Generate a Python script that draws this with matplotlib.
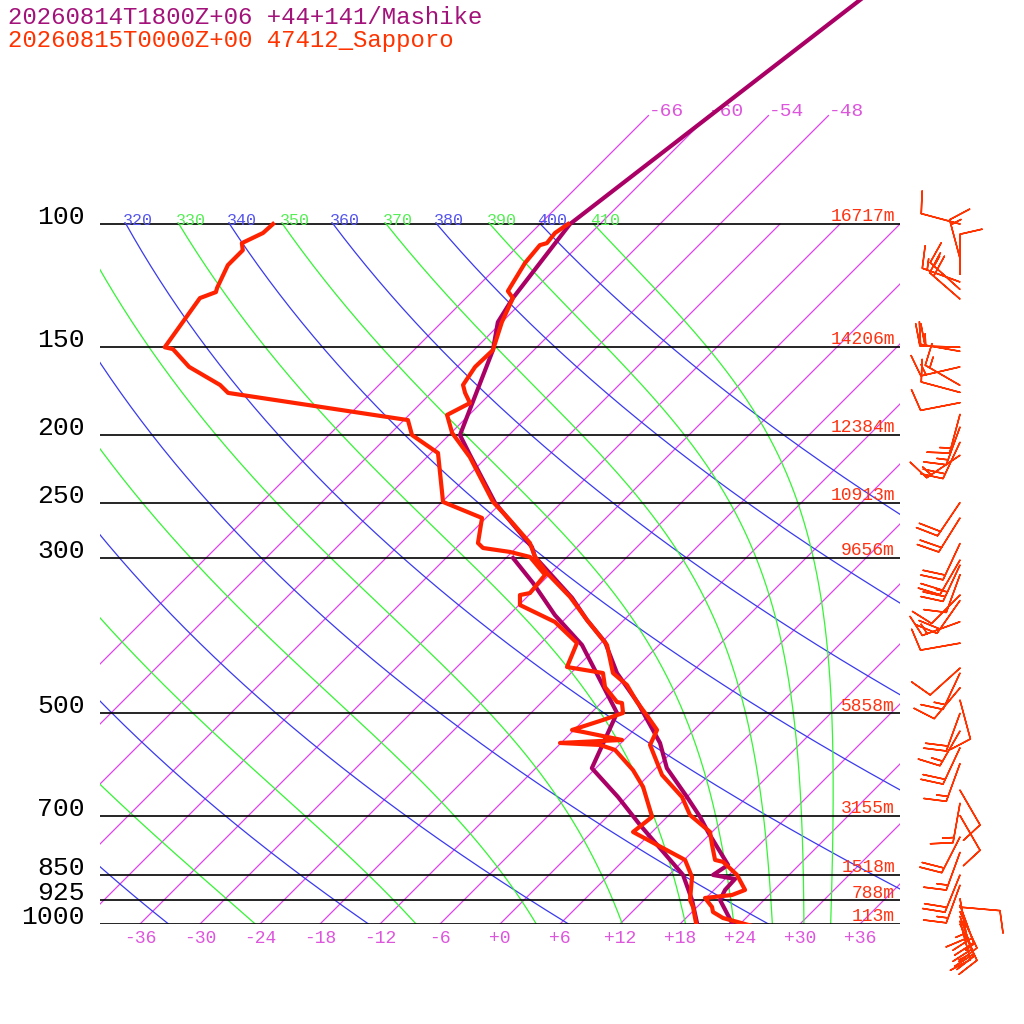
import numpy as np
import matplotlib.pyplot as plt

plt.rcParams['font.family'] = ['Liberation Mono', 'DejaVu Sans Mono']

# --- Sapporo (47412) observed sounding ---
obs_p = [1005, 980.5, 961.3, 945.6, 918, 909, 894, 851, 815.2, 810, 771, 738.8,
         698.7, 658.5, 612.5, 554.9, 528.2, 506.1, 481.8, 455.6, 438, 399.4,
         367.9, 341, 315.2, 299, 285.6, 264.8, 249.5, 215.3, 198.8, 187.4,
         180.2, 174.3, 169.8, 160, 151.4, 138.1, 127.6, 124.7, 113.7, 107.2,
         106.5, 103, 100]
obs_t = [25.2, 21.7, 20.1, 19.5, 17.9, 20.3, 21.1, 18.8, 16.1, 15.1, 13.3, 11.8,
         8.1, 5.5, 1.3, -2.9, -3.7, -5.9, -8.5, -11.2, -13.8, -17.2,
         -21.7, -25.7, -30.4, -33.2, -35.1, -39.4, -42.9, -49.7, -53.9, -56.2,
         -55.1, -56.6, -57.6, -58.2, -58.1, -60.0, -61.3, -62.5, -63.6, -63.9,
         -63.4, -63.6, -63.2]
obs_td_p = [1005, 945.6, 924, 856.7, 810, 738.8, 703.1, 637, 602.6, 564.1, 554.9,
            551.3, 545.9, 531.7, 528.2, 511.1, 499.5, 483.4, 481.8, 458.6, 438,
            429.4, 396.8, 370.3, 350.2, 338.9, 336.7, 317.2, 299, 294.1, 290.3,
            285.6, 263, 249.5, 212.4, 200.2, 190.6, 174.3, 169.8, 160, 150.9,
            150.0, 127.6, 125.1, 123.4, 114.5, 109.0, 106.5, 103, 100]
obs_td = [19.8, 17.6, 16.6, 14.5, 12.1, 4.1, 4.5, 0.6, -2.1, -5.9, -7.9,
          -12.1, -6.2, -10.9, -12.2, -10.1, -8.8, -9.9, -10.5, -13.2, -14.8,
          -19.0, -20.4, -24.7, -29.9, -30.9, -30.1, -30.4, -33.7, -36.2, -39.3,
          -40.3, -42.4, -47.9, -53.3, -57.7, -59.6, -80.3, -81.9, -86.8, -90.2,
          -91.2, -92.6, -91.6, -91.9, -93.1, -93.1, -93.9, -92.8, -92.7]

# --- Mashike forecast profile ---
fc_p = [996.7, 924, 894, 862.3, 851, 823.4, 738.8, 703.1, 658.5, 598.9, 551.3,
        483.4, 438, 395.5, 367.9, 342.1, 299, 289.4, 250.3, 213.8, 200.2,
        151.4, 138.1, 127.6, 100, 40]
fc_t = [23.1, 19.6, 19.1, 19.0, 16.4, 16.9, 11.6, 9.3, 6.0, 1.1, -2.1,
        -8.3, -13.4, -17.7, -21.7, -25.4, -33.2, -34.5, -42.6, -49.9, -52.9,
        -58.1, -60.4, -61.3, -63.0, -54.8]
fc_td_p = [996.7, 924, 851, 722, 658.5, 598.9, 499.5, 399.4, 362, 325.7, 300]
fc_td = [19.6, 16.8, 13.4, 4.1, -0.9, -6.4, -9.4, -19.7, -25.4, -30.8, -35.3]

# --- winds (Sapporo): pressure hPa, direction deg, speed kt ---
wind_p = [100, 112, 118, 121, 124, 128, 150, 152, 160, 170, 174, 180, 187, 195,
          205, 214, 250, 263, 286, 302, 307, 317, 339, 345, 370, 397, 431, 438,
          460, 479, 500, 530, 560, 590, 644, 672, 700, 751, 790, 851, 880, 920,
          940, 946, 960, 975, 990, 1000]
wind_dir = [285, 345, 0, 290, 312, 311, 272, 280, 257, 300, 285, 259, 195, 200,
            205, 236, 214, 212, 205, 210, 205, 200, 225, 215, 250, 260, 228, 205,
            220, 165, 200, 210, 205, 200, 150, 190, 150, 207, 200, 202, 200, 170,
            160, 95, 155, 160, 165, 155]
wind_kt = [10, 15, 10, 15, 15, 20, 20, 15, 15, 15, 10, 10, 15, 15,
           20, 15, 20, 20, 20, 20, 25, 10, 10, 20, 15, 10, 10, 15,
           10, 10, 20, 15, 20, 15, 10, 15, 10, 20, 15, 20, 15, 15,
           20, 10, 15, 20, 15, 20]

# --- chart furniture ---
std_p = [100, 150, 200, 250, 300, 500, 700, 850, 925, 1000]
std_hgt = ['16717m', '14206m', '12384m', '10913m', '9656m', '5858m',
           '3155m', '1518m', '788m', '113m']
isotherms = list(range(-66, 37, 6))
theta_dry = list(range(240, 401, 20))
theta_moist = list(range(230, 411, 20))

SKEW = 70.0
P_TOP = 1000 * 10 ** (-924 / 700)


def skx(t, p):
    return np.asarray(t, float) + SKEW * np.log10(1000.0 / np.asarray(p, float))


def pseudo_adiabat(theta, p):
    # integrate the saturated lapse rate down from 100 hPa
    Rd, Cp, Lv, eps = 287.04, 1005.7, 2.501e6, 0.622

    def dtdp(T, pp):
        tc = T - 273.15
        es = 6.112 * np.exp(17.67 * tc / (tc + 243.5))
        rs = eps * es / (pp - es)
        return ((Rd * T + Lv * rs) / pp) / (Cp + Lv ** 2 * rs * eps / (Rd * T ** 2))

    T = theta * (p[0] / 1000.0) ** (Rd / Cp)
    out = [T]
    for i in range(1, len(p)):
        h = p[i] - p[i - 1]
        k1 = dtdp(T, p[i - 1])
        k2 = dtdp(T + h * k1 / 2, p[i - 1] + h / 2)
        k3 = dtdp(T + h * k2 / 2, p[i - 1] + h / 2)
        k4 = dtdp(T + h * k3, p[i])
        T = T + h * (k1 + 2 * k2 + 2 * k3 + k4) / 6
        out.append(T)
    return np.array(out) - 273.15


fig = plt.figure(figsize=(10.24, 10.24), dpi=100)
ax = fig.add_axes([100 / 1024, 100 / 1024, 800 / 1024, 924 / 1024])
ax.set_yscale('log')
ax.set_ylim(1000, P_TOP)
ax.set_xlim(-40, 40)
ax.axis('off')

purple = '#dd44ee'
green = '#33f533'
blue = '#3a3aee'

# isotherms
for t in isotherms:
    ptop = 70 if t <= -48 else 100
    pp = np.array([1000, ptop])
    ax.plot(skx([t, t], pp), pp, color=purple, lw=0.9)
    if ptop == 70:
        ax.text(skx(t, 70), 70, '%d' % t, color='#dd55dd', fontsize=14,
                ha='left', va='baseline')
    if -36 <= t <= 36:
        ax.annotate('%+d' % t, xy=(t, 1000), xytext=(0, -4),
                    textcoords='offset points', ha='center', va='top',
                    color='#dd55dd', fontsize=13, annotation_clip=False)

pgrid = np.geomspace(100, 1000, 300)
# dry adiabats
for th in theta_dry:
    tt = th * (pgrid / 1000.0) ** 0.2857 - 273.15
    ax.plot(skx(tt, pgrid), pgrid, color=blue, lw=0.9)
    if th >= 320:
        x0 = skx(th * 0.1 ** 0.2857 - 273.15, 100)
        ax.text(x0 - 0.3, 100 * 1.012, str(th), color='#5555ee', fontsize=12,
                ha='left', va='bottom', clip_on=True)
# moist adiabats
for th in theta_moist:
    tt = pseudo_adiabat(th, pgrid)
    ax.plot(skx(tt, pgrid), pgrid, color=green, lw=0.9)
    if th >= 330:
        ax.text(skx(tt[0], 100) - 0.3, 100 * 1.012, str(th), color='#55ee55',
                fontsize=12, ha='left', va='bottom', clip_on=True)

# isobars with labels and heights
for p, hgt in zip(std_p, std_hgt):
    ax.plot([-40, 40], [p, p], color='black', lw=1.2)
    ax.text(-0.019, p, str(p), transform=ax.get_yaxis_transform(), ha='right',
            va='baseline', fontsize=19, color='black')
    ax.annotate(hgt, xy=(39.5, p), xytext=(0, 2), textcoords='offset points',
                ha='right', va='baseline', fontsize=13, color='#ff3311')

# profiles
red = '#ff2200'
mag = '#aa0066'
ax.plot(skx(fc_td, fc_td_p), fc_td_p, color=mag, lw=3, zorder=5)
ax.plot(skx(fc_t, fc_p), fc_p, color=mag, lw=3, zorder=5)
ax.plot(skx(obs_td, obs_td_p), obs_td_p, color=red, lw=3, zorder=6)
ax.plot(skx(obs_t, obs_p), obs_p, color=red, lw=3, zorder=6)

# wind barbs
wd = np.radians(wind_dir)
ws = np.array(wind_kt, float)
u = -ws * np.sin(wd)
v = -ws * np.cos(wd)
ax.barbs(np.full(len(wind_p), 46.0), wind_p, u, v, length=7.6, color='#ff3300',
         linewidth=1.1, clip_on=False, sizes=dict(height=0.55, spacing=0.13),
         zorder=7)

fig.text(8 / 1024, 1 - 18 / 1024, '20260814T1800Z+06 +44+141/Mashike',
         color='#a3127a', fontsize=17.3, va='center', ha='left')
fig.text(8 / 1024, 1 - 41 / 1024, '20260815T0000Z+00 47412_Sapporo',
         color='#ff3300', fontsize=17.3, va='center', ha='left')

fig.savefig('out.png', dpi=100)
